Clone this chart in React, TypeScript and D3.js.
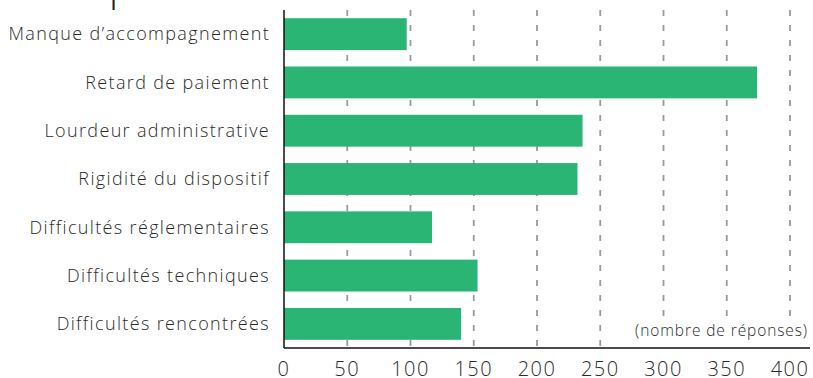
import React from "react";
import * as d3 from "d3";

const categories = [
  "Manque d’accompagnement",
  "Retard de paiement",
  "Lourdeur administrative",
  "Rigidité du dispositif",
  "Difficultés réglementaires",
  "Difficultés techniques",
  "Difficultés rencontrées",
];
const values = [97, 374, 236, 232, 117, 153, 140];
const xTicks = [0, 50, 100, 150, 200, 250, 300, 350, 400];
const unitLabel = "(nombre de réponses)";

const W = 813;
const H = 378;
const left = 284;
const right = 790;
const top = 10;
const bottom = 348;
const FONT = "'Open Sans', Lato, sans-serif";

export default function App() {
  const x = d3.scaleLinear().domain([0, 400]).range([left, right]);
  const y = d3.scaleBand<string>().domain(categories).range([top, bottom]).paddingInner(0.34).paddingOuter(0.17);

  return (
    <svg width={W} height={H} style={{ position: "absolute", left: 0, top: 0, background: "#fff" }}>
      <text x={109} y={0} fontSize={40} fontFamily={FONT} fontWeight={300} fill="#222">p</text>
      {xTicks.filter((t) => t > 0).map((t) => (
        <line key={t} x1={x(t)} x2={x(t)} y1={top} y2={bottom} stroke="#9a9a9a" strokeWidth={1.8} strokeDasharray="6,9" />
      ))}
      {categories.map((c, i) => (
        <rect key={c} x={x(0)} y={y(c)!} width={x(values[i]) - x(0)} height={y.bandwidth()} fill="#2bb574" />
      ))}
      {categories.map((c) => (
        <text key={c} x={270} y={y(c)! + y.bandwidth() / 2} dy="0.35em" textAnchor="end" fontSize={18} fontFamily={FONT} fontWeight={300} fill="#2a2a2a" letterSpacing={1.35}>
          {c}
        </text>
      ))}
      <line x1={x(0)} x2={x(0)} y1={top} y2={bottom} stroke="#111" strokeWidth={1.5} />
      <rect x={630} y={317} width={183} height={30} fill="#fff" />
      <line x1={x(0)} x2={right + 20} y1={bottom} y2={bottom} stroke="#111" strokeWidth={1.5} />
      {xTicks.map((t) => (
        <text key={t} x={x(t)} y={368.5} dy="0.35em" textAnchor="middle" fontSize={20} fontFamily={FONT} fontWeight={300} fill="#2a2a2a" letterSpacing={1.5}>
          {t}
        </text>
      ))}
      <text x={808} y={331} dy="0.35em" textAnchor="end" fontSize={15.5} fontFamily={FONT} fontWeight={300} fill="#2a2a2a" letterSpacing={0.9}>
        {unitLabel}
      </text>
    </svg>
  );
}
